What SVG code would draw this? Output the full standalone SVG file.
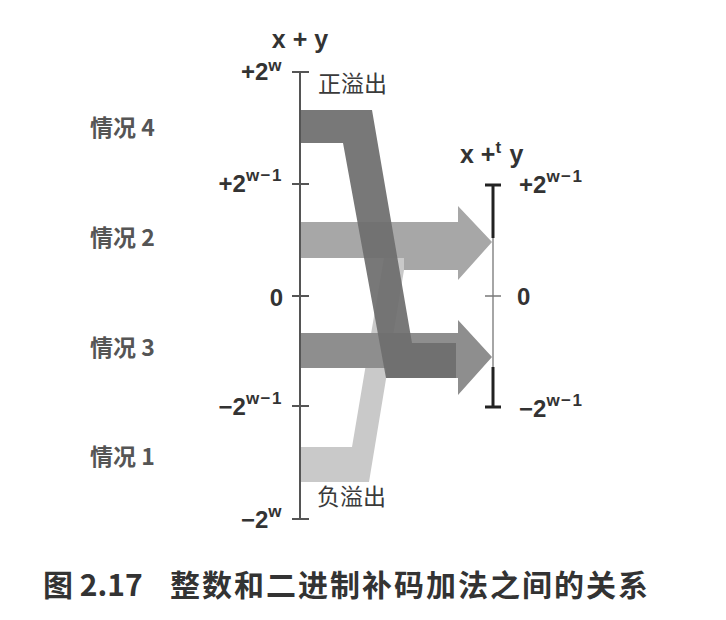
<svg xmlns="http://www.w3.org/2000/svg" width="726" height="620" viewBox="0 0 726 620">
<style>
.lbl{font-family:"Liberation Sans","DejaVu Sans",sans-serif;font-weight:bold;font-size:24px;fill:#333}
.sup{font-size:17px;letter-spacing:1.5px}
.title{font-size:25px}
.cjk{font-family:"Noto Sans CJK SC","Liberation Sans",sans-serif;font-size:23px;fill:#3a3a3a}
.case{font-family:"Noto Sans CJK SC","Liberation Sans",sans-serif;font-size:23px;font-weight:bold;fill:#555}
.cap{font-family:"Noto Sans CJK SC","Liberation Sans",sans-serif;font-size:30px;font-weight:bold;fill:#333}
.axis{stroke:#555;stroke-width:2;fill:none}
.axdark{stroke:#222;stroke-width:3;fill:none}
</style>
<rect width="726" height="620" fill="#fff"/>

<g id="connectors">
  <g id="band-case1"><polygon points="300,447 352,447 386,245 404,245 404,270 369,482 300,482" fill="#c9c9c9"/></g>
  <g id="band-case2"><polygon points="300,222 458,222 458,206 492,242 458,280 458,270 404,270 404,258 300,258" fill="#a7a7a7"/></g>
  <g id="band-case3"><polygon points="300,333 458,333 458,320 492,357 458,395 458,378 386,378 386,368 300,368" fill="#8e8e8e"/></g>
  <g id="band-case4"><polygon points="300,110 372,110 412,343 456,343 456,378 386,378 343,143 300,143" fill="#6e6e6e" fill-opacity="0.93"/></g>
</g>

<g id="axis-left">
  <line class="axis" x1="300" y1="72" x2="300" y2="519"/>
  <line class="axis" x1="292" y1="72" x2="309" y2="72"/>
  <line class="axis" x1="292" y1="184" x2="309" y2="184"/>
  <line class="axis" x1="292" y1="296" x2="309" y2="296"/>
  <line class="axis" x1="292" y1="406" x2="309" y2="406"/>
  <line class="axis" x1="292" y1="519" x2="309" y2="519"/>
  <text class="lbl title" x="300" y="48" text-anchor="middle">x + y</text>
  <text class="lbl" x="283" y="80" text-anchor="end">+2<tspan class="sup" dy="-9">w</tspan></text>
  <text class="lbl" x="283" y="192" text-anchor="end">+2<tspan class="sup" dy="-11">w−1</tspan></text>
  <text class="lbl" x="283" y="306" text-anchor="end">0</text>
  <text class="lbl" x="283" y="415" text-anchor="end">−2<tspan class="sup" dy="-11">w−1</tspan></text>
  <text class="lbl" x="283" y="528" text-anchor="end">−2<tspan class="sup" dy="-11">w</tspan></text>
  <text class="cjk" x="318" y="92">正溢出</text>
  <text class="cjk" x="317" y="505">负溢出</text>
</g>

<g id="axis-right">
  <line x1="493" y1="185" x2="493" y2="407" stroke="#888" stroke-width="1.5"/>
  <line class="axdark" x1="493" y1="185" x2="493" y2="238"/>
  <line class="axdark" x1="493" y1="367" x2="493" y2="407"/>
  <line class="axdark" x1="485" y1="185" x2="501" y2="185" stroke-width="2.5"/>
  <line x1="485" y1="296" x2="501" y2="296" stroke="#777" stroke-width="1.5"/>
  <line class="axdark" x1="485" y1="407" x2="501" y2="407" stroke-width="2.5"/>
  <text class="lbl title" x="460" y="163">x +<tspan class="sup" dy="-10">t</tspan><tspan dy="10"> y</tspan></text>
  <text class="lbl" x="519" y="193">+2<tspan class="sup" dy="-11">w−1</tspan></text>
  <text class="lbl" x="517" y="305">0</text>
  <text class="lbl" x="519" y="417">−2<tspan class="sup" dy="-11">w−1</tspan></text>
</g>

<g id="case-labels">
  <text class="case" x="90" y="136">情况 4</text>
  <text class="case" x="90" y="246">情况 2</text>
  <text class="case" x="90" y="356">情况 3</text>
  <text class="case" x="90" y="465">情况 1</text>
</g>

<g id="caption">
  <text class="cap" x="43" y="596">图 2.17<tspan x="170" letter-spacing="2">整数和二进制补码加法之间的关系</tspan></text>
</g>
</svg>
